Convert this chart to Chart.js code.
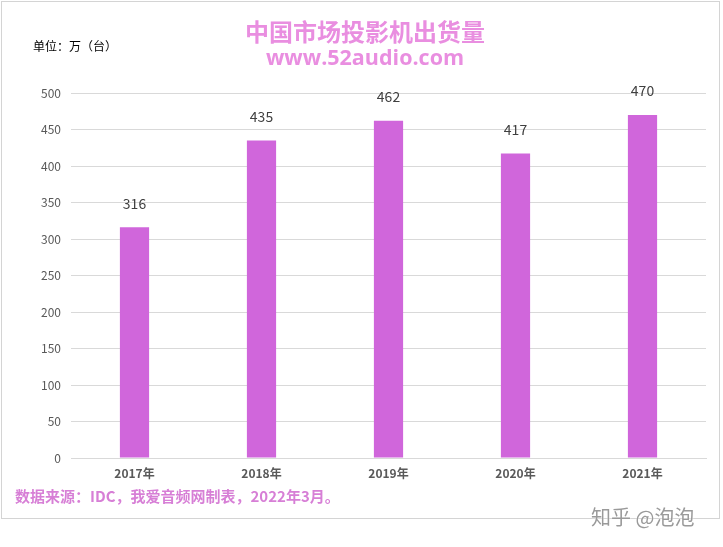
<!DOCTYPE html>
<html>
<head>
<meta charset="utf-8">
<script src="https://cdn.jsdelivr.net/npm/chart.js@4/dist/chart.umd.min.js"></script>
<style>
  body { margin: 0; background: #fff; font-family: "Noto Sans CJK SC", sans-serif; }
  #wrap { position: relative; width: 723px; height: 547px; }
  #frame { position: absolute; left: 1px; top: 1px; width: 717px; height: 516px; border: 1px solid #d4d4d4; }
  canvas { position: absolute; left: 0; top: 0; }
  .txt { position: absolute; white-space: nowrap; }
  #title { left: 0; width: 730px; text-align: center; top: 16px; font-size: 24px; font-weight: bold; color: #e98ee0; line-height: 30px; }
  #site { left: 0; width: 730px; text-align: center; top: 43px; font-size: 21.5px; font-weight: bold; color: #e98ee0; line-height: 28px; font-family: "Open Sans", sans-serif; }
  #unit { left: 33px; top: 37px; font-size: 12px; color: #000; line-height: 18px; }
  #source { left: 15px; top: 485px; font-size: 15px; font-weight: bold; color: #d77fd6; line-height: 22px; }
  #mark { left: 591px; top: 503px; font-size: 20px; color: #9a9a9a; line-height: 28px; text-shadow: 0 0 2px #fff; }
</style>
</head>
<body>
<div id="wrap">
  <div id="frame"></div>
  <canvas id="c" width="723" height="547"></canvas>
  <div class="txt" id="title">中国市场投影机出货量</div>
  <div class="txt" id="site">www.52audio.com</div>
  <div class="txt" id="unit">单位：万（台）</div>
  <div class="txt" id="source">数据来源：IDC，我爱音频网制表，2022年3月。</div>
  <div class="txt" id="mark">知乎 @泡泡</div>
</div>
<script>
const years = ["2017年", "2018年", "2019年", "2020年", "2021年"];
const shipments = [316, 435, 462, 417, 470];

// labels above the bars
const barLabels = {
  id: "barLabels",
  afterDatasetsDraw(chart) {
    const ctx = chart.ctx;
    const meta = chart.getDatasetMeta(0);
    ctx.save();
    ctx.font = "14px 'Noto Sans CJK SC', sans-serif";
    ctx.fillStyle = "#404040";
    ctx.textAlign = "center";
    ctx.textBaseline = "middle";
    meta.data.forEach((bar, i) => {
      ctx.fillText(shipments[i], bar.x, bar.y - 24);
    });
    ctx.restore();
  }
};

new Chart(document.getElementById("c"), {
  type: "bar",
  data: {
    labels: years,
    datasets: [{
      data: shipments,
      backgroundColor: "#d066db",
      categoryPercentage: 1,
      barPercentage: 0.23
    }]
  },
  options: {
    responsive: false,
    animation: false,
    layout: { padding: { left: 0, right: 17, top: 93, bottom: 0 } },
    plugins: { legend: { display: false }, tooltip: { enabled: false } },
    scales: {
      x: {
        grid: { display: false },
        border: { color: "#d9d9d9" },
        ticks: { color: "#595959", padding: 0, font: { size: 12, weight: "bold", family: "'Noto Sans CJK SC', sans-serif" } },
        afterFit(s) { s.height = 89; }
      },
      y: {
        min: 0,
        max: 500,
        ticks: { stepSize: 50, color: "#595959", padding: 10, font: { size: 12, family: "'Noto Sans CJK SC', sans-serif" } },
        grid: { color: "#d9d9d9", drawTicks: false },
        border: { display: false },
        afterFit(s) { s.width = 71; }
      }
    }
  },
  plugins: [barLabels]
});
</script>
</body>
</html>
